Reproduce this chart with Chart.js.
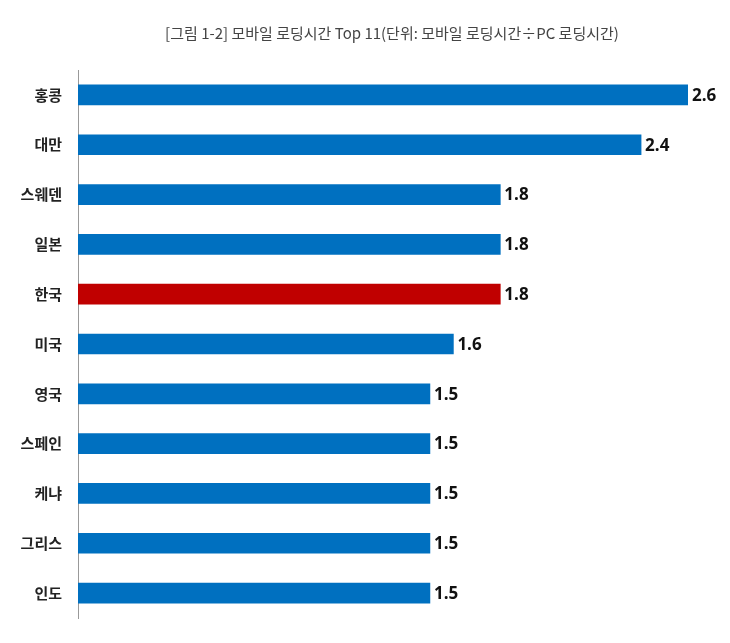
<!DOCTYPE html>
<html>
<head>
<meta charset="utf-8">
<script src="https://cdn.jsdelivr.net/npm/chart.js@4"></script>
<style>
  body { margin: 0; background: #fff; }
</style>
</head>
<body>
<canvas id="chart" width="730" height="643"></canvas>
<script>
const countries = ["홍콩", "대만", "스웨덴", "일본", "한국", "미국", "영국", "스페인", "케냐", "그리스", "인도"];
const ratios = [2.6, 2.4, 1.8, 1.8, 1.8, 1.6, 1.5, 1.5, 1.5, 1.5, 1.5];
const highlight = "한국";
const titleText = "[그림 1-2] 모바일 로딩시간 Top 11(단위: 모바일 로딩시간÷PC 로딩시간)";

// title and value labels drawn by hand
const extras = {
  id: "extras",
  afterDraw(chart) {
    const ctx = chart.ctx;
    ctx.save();
    ctx.fillStyle = "#444";
    ctx.font = "15px 'Noto Sans CJK KR'";
    ctx.textAlign = "center";
    ctx.textBaseline = "middle";
    ctx.fillText(titleText, 392, 33);

    ctx.fillStyle = "#111";
    ctx.font = "bold 17px 'Open Sans', 'Noto Sans CJK KR'";
    ctx.textAlign = "left";
    chart.getDatasetMeta(0).data.forEach((bar, i) => {
      ctx.fillText(ratios[i].toFixed(1), bar.x + 4, bar.y + 1);
    });
    ctx.restore();
  },
};

new Chart(document.getElementById("chart"), {
  type: "bar",
  data: {
    labels: countries,
    datasets: [
      {
        data: ratios,
        backgroundColor: countries.map((c) => (c === highlight ? "#c00000" : "#0070c0")),
        barThickness: 20,
      },
    ],
  },
  options: {
    indexAxis: "y",
    responsive: false,
    animation: false,
    layout: { padding: { top: 70, right: 42, bottom: 14, left: 0 } },
    plugins: { legend: { display: false }, tooltip: { enabled: false } },
    scales: {
      x: { display: false, min: 0, max: 2.6 },
      y: {
        afterFit: (scale) => { scale.width = 78; },
        grid: { display: false, drawTicks: false },
        border: { color: "#999" },
        ticks: {
          color: "#222",
          padding: 16,
          font: { size: 15, weight: "bold", family: "'Noto Sans CJK KR'" },
        },
      },
    },
  },
  plugins: [extras],
});
</script>
</body>
</html>
